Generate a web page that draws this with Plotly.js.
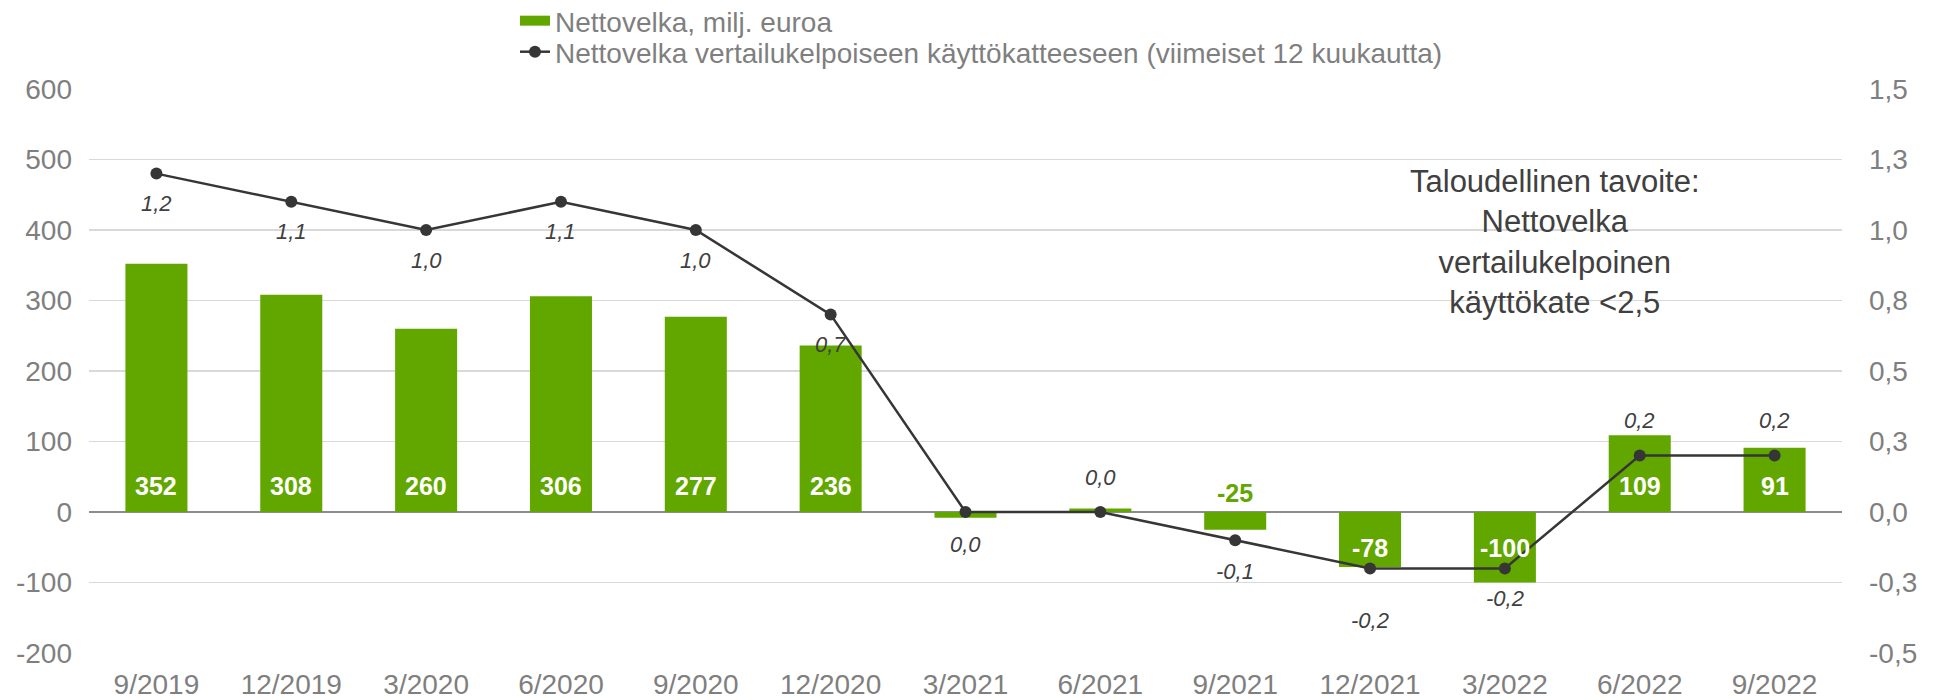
<!DOCTYPE html>
<html>
<head>
<meta charset="utf-8">
<script src="https://cdn.plot.ly/plotly-3.0.1.min.js"></script>
<style>
  html, body { margin: 0; padding: 0; background: #fff; }
  #chart { width: 1944px; height: 700px; }
</style>
</head>
<body>
<div id="chart"></div>
<script>
// ---- data ----
const categories = ["9/2019", "12/2019", "3/2020", "6/2020", "9/2020", "12/2020",
  "3/2021", "6/2021", "9/2021", "12/2021", "3/2022", "6/2022", "9/2022"];
const netDebt = [352, 308, 260, 306, 277, 236, -8, 5, -25, -78, -100, 109, 91];
const debtRatio = [1.2, 1.1, 1.0, 1.1, 1.0, 0.7, 0.0, 0.0, -0.1, -0.2, -0.2, 0.2, 0.2];
const seriesNames = ["Nettovelka, milj. euroa",
  "Nettovelka vertailukelpoiseen käyttökatteeseen (viimeiset 12 kuukautta)"];
const targetText = "Taloudellinen tavoite:<br>Nettovelka<br>vertailukelpoinen<br>käyttökate <2,5";
const leftRange = [-200, 600], leftStep = 100;
const rightRange = [-0.5, 1.5], rightStep = 0.25;

// ---- styles ----
const green = "#62a700";
const lineCol = "#363636";
const tickCol = "#7f7f7f";
const font = "Liberation Sans, Arial, sans-serif";
// label offsets (px) for the ratio labels: negative = below point
const ratioLabelShift = [-30, -30, -30, -30, -30, -30, -32, 35, -31, -52, -30, 35, 35];

const fmt1 = v => v.toFixed(1).replace('.', ',');
const ticks = (r, s) => { const out = []; for (let v = r[0]; v <= r[1] + 1e-9; v += s) out.push(+v.toFixed(4)); return out; };
const leftTicks = ticks(leftRange, leftStep);
const rightTicks = ticks(rightRange, rightStep);

const bar = {
  type: "bar", x: categories, y: netDebt, name: seriesNames[0],
  marker: { color: green }, yaxis: "y", showlegend: false
};
// legend entry for the bars (drawn as a wide green key like the original)
const barKey = {
  type: "scatter", mode: "lines", x: [null], y: [null], name: seriesNames[0],
  line: { color: green, width: 17 }, legend: "legend", showlegend: true
};
const line = {
  type: "scatter", mode: "lines+markers", x: categories, y: debtRatio,
  name: seriesNames[1], yaxis: "y2", legend: "legend2",
  line: { color: lineCol, width: 2.5 },
  marker: { color: lineCol, size: 12 }
};

const annotations = [];
netDebt.forEach((v, i) => {
  if (Math.abs(v) < 20) return;
  let a = { x: categories[i], y: 0, xref: "x", yref: "y", text: String(v), showarrow: false,
    font: { family: font, size: 25, color: "#ffffff", weight: "bold" }, yanchor: "middle" };
  if (v > 0) { a.yshift = 26; }
  else if (v > -50) { a.yshift = 19; a.font.color = green; }
  else { a.yshift = -36; }
  annotations.push(a);
});
debtRatio.forEach((v, i) => {
  annotations.push({ x: categories[i], y: v, xref: "x", yref: "y2", text: fmt1(v), showarrow: false,
    yanchor: "middle", yshift: ratioLabelShift[i],
    font: { family: font, size: 22, color: "#404040", style: "italic" } });
});
annotations.push({ xref: "paper", yref: "paper", x: 0.836, y: 0.728, xanchor: "center", yanchor: "middle",
  text: targetText, showarrow: false, align: "center",
  font: { family: font, size: 31, color: "#404040" } });

const legendBase = { x: 0.243, xanchor: "left", yanchor: "middle", orientation: "v",
  font: { family: font, size: 28, color: tickCol }, itemwidth: 30, bgcolor: "rgba(0,0,0,0)",
  borderwidth: 0 };

const layout = {
  width: 1944, height: 700,
  margin: { l: 89, r: 102, t: 89, b: 47, autoexpand: false },
  paper_bgcolor: "#fff", plot_bgcolor: "#fff",
  font: { family: font, color: tickCol, size: 28 },
  showlegend: true,
  legend: Object.assign({}, legendBase, { y: 1.1206 }),
  legend2: Object.assign({}, legendBase, { y: 1.0656 }),
  bargap: 0.54,
  xaxis: { type: "category", range: [-0.5, categories.length - 0.5], showgrid: false, zeroline: false,
    showline: false, automargin: false,
    ticks: "", tickfont: { family: font, size: 28, color: tickCol }, ticklabelstandoff: 12 },
  yaxis: { range: leftRange, tickmode: "array", tickvals: leftTicks, ticktext: leftTicks.map(String),
    showgrid: true, gridcolor: "#d9d9d9", gridwidth: 1.5, automargin: false,
    zeroline: true, zerolinecolor: "#8c8c8c", zerolinewidth: 2, ticks: "",
    tickfont: { family: font, size: 28, color: tickCol }, ticklabelstandoff: 16 },
  yaxis2: { overlaying: "y", side: "right", range: rightRange, tickmode: "array",
    tickvals: rightTicks, ticktext: rightTicks.map(fmt1), automargin: false,
    showgrid: false, zeroline: false, ticks: "",
    tickfont: { family: font, size: 28, color: tickCol }, ticklabelstandoff: 26 },
  annotations: annotations
};

Plotly.newPlot("chart", [bar, barKey, line], layout, { displayModeBar: false, staticPlot: true });
</script>
</body>
</html>
